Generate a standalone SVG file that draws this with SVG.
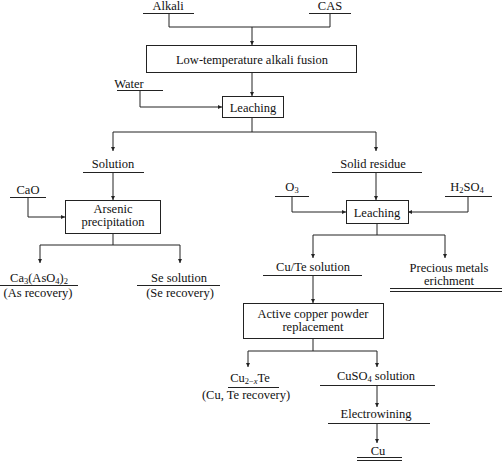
<svg xmlns="http://www.w3.org/2000/svg" width="502" height="462" viewBox="0 0 502 462" font-family="'Liberation Serif', serif">
<style>
text{font-family:'Liberation Serif',serif;font-size:12.5px;fill:#111;text-anchor:middle}
.sub{font-size:8.5px}
.ln{stroke:#222;stroke-width:1;fill:none}
.box{stroke:#222;stroke-width:1;fill:#fff}
</style>
<defs>
<marker id="ar" markerUnits="userSpaceOnUse" markerWidth="5" markerHeight="5" refX="4" refY="2" orient="auto">
<path d="M0,0 L4,2 L0,4 Z" fill="#222"/>
</marker>
</defs>
<rect width="502" height="462" fill="#fff"/>
<g id="connectors">
<path class="ln" d="M169,13 V27 H330 V13"/>
<path class="ln" d="M252,27 V45" marker-end="url(#ar)"/>
<path class="ln" d="M252,72 V96" marker-end="url(#ar)"/>
<path class="ln" d="M140,91 V107 H222" marker-end="url(#ar)"/>
<path class="ln" d="M252,117 V132 M113,132 H376"/>
<path class="ln" d="M113,132 V151" marker-end="url(#ar)"/>
<path class="ln" d="M376,132 V151" marker-end="url(#ar)"/>
<path class="ln" d="M113,172 V200" marker-end="url(#ar)"/>
<path class="ln" d="M28,197 V217 H65" marker-end="url(#ar)"/>
<path class="ln" d="M113,233 V245 M40,245 H180"/>
<path class="ln" d="M40,245 V263" marker-end="url(#ar)"/>
<path class="ln" d="M180,245 V263" marker-end="url(#ar)"/>
<path class="ln" d="M376,172 V200" marker-end="url(#ar)"/>
<path class="ln" d="M292,196 V212 H346" marker-end="url(#ar)"/>
<path class="ln" d="M468,196 V212 H408" marker-end="url(#ar)"/>
<path class="ln" d="M377,223 V235 M313,235 H445"/>
<path class="ln" d="M313,235 V258" marker-end="url(#ar)"/>
<path class="ln" d="M445,235 V258" marker-end="url(#ar)"/>
<path class="ln" d="M313,275 V303" marker-end="url(#ar)"/>
<path class="ln" d="M313,338 V351 M248,351 H377"/>
<path class="ln" d="M248,351 V367" marker-end="url(#ar)"/>
<path class="ln" d="M377,351 V367" marker-end="url(#ar)"/>
<path class="ln" d="M377,385 V407" marker-end="url(#ar)"/>
<path class="ln" d="M377,424 V443" marker-end="url(#ar)"/>
</g>
<g id="alkali"><text x="168" y="10">Alkali</text><path class="ln" d="M143,13.5 H194"/></g>
<g id="cas"><text x="330" y="10">CAS</text><path class="ln" d="M309,13.5 H351"/></g>
<g id="fusion"><rect class="box" x="146.5" y="45.5" width="210" height="27"/><text x="252" y="64">Low-temperature alkali fusion</text></g>
<g id="water"><text x="129" y="88">Water</text><path class="ln" d="M117,90.5 H163"/></g>
<g id="leaching1"><rect class="box" x="222.5" y="96.5" width="61" height="21"/><text x="253" y="112">Leaching</text></g>
<g id="solution"><text x="113" y="168">Solution</text><path class="ln" d="M83,172.5 H144"/></g>
<g id="cao"><text x="28" y="194">CaO</text><path class="ln" d="M10,197.5 H46"/></g>
<g id="arsenic"><rect class="box" x="65.5" y="200.5" width="95" height="33"/><text x="113" y="213">Arsenic</text><text x="113" y="226">precipitation</text></g>
<g id="ca3aso4"><text x="39" y="282">Ca<tspan class="sub" dy="2">3</tspan><tspan dy="-2">(AsO</tspan><tspan class="sub" dy="2">4</tspan><tspan dy="-2">)</tspan><tspan class="sub" dy="2">2</tspan></text><path class="ln" d="M0,285.5 H78"/><text x="38" y="297">(As recovery)</text></g>
<g id="sesolution"><text x="179" y="282">Se solution</text><path class="ln" d="M137,285.5 H220"/><text x="180" y="297">(Se recovery)</text></g>
<g id="solidresidue"><text x="373" y="168">Solid residue</text><path class="ln" d="M332,172.5 H422"/></g>
<g id="o3"><text x="292" y="191">O<tspan class="sub" dy="2">3</tspan></text><path class="ln" d="M275,196.5 H309"/></g>
<g id="h2so4"><text x="467" y="191">H<tspan class="sub" dy="2">2</tspan><tspan dy="-2">SO</tspan><tspan class="sub" dy="2">4</tspan></text><path class="ln" d="M445,196.5 H492"/></g>
<g id="leaching2"><rect class="box" x="346.5" y="200.5" width="62" height="23"/><text x="377" y="217">Leaching</text></g>
<g id="cutesolution"><text x="313" y="271">Cu/Te solution</text><path class="ln" d="M263,275.5 H362"/></g>
<g id="precious"><text x="449" y="272">Precious metals</text><text x="449" y="285">erichment</text><path class="ln" d="M390,288.5 H502 M390,291.5 H502"/></g>
<g id="replacement"><rect class="box" x="243.5" y="303.5" width="140" height="35"/><text x="313" y="318">Active copper powder</text><text x="313" y="331">replacement</text></g>
<g id="cu2xte"><text x="250" y="382">Cu<tspan class="sub" dy="2">2−<tspan font-style="italic">x</tspan></tspan><tspan dy="-2">Te</tspan></text><path class="ln" d="M228,387.5 H279"/><text x="246" y="399">(Cu, Te recovery)</text></g>
<g id="cuso4"><text x="376" y="380">CuSO<tspan class="sub" dy="2">4</tspan><tspan dy="-2"> solution</tspan></text><path class="ln" d="M320,385.5 H435"/></g>
<g id="electrowining"><text x="376" y="418">Electrowining</text><path class="ln" d="M328,423.5 H430"/></g>
<g id="cu"><text x="378" y="455">Cu</text><path class="ln" d="M357,457.5 H402 M357,460.5 H402"/></g>
</svg>
